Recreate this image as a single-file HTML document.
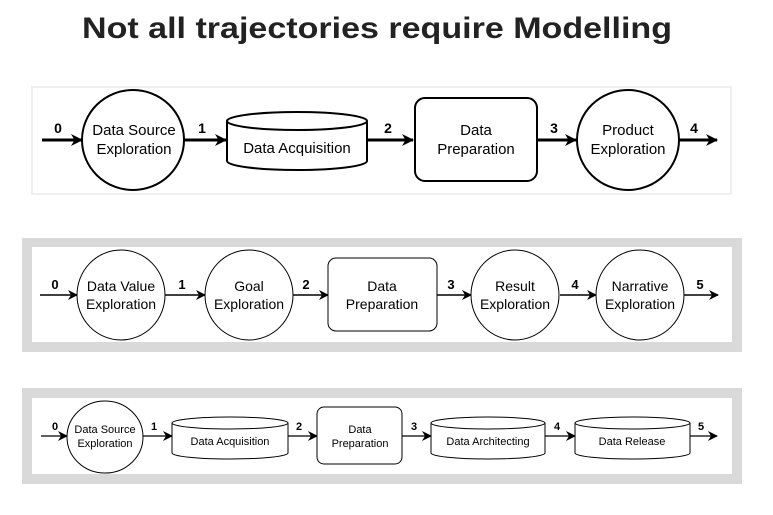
<!DOCTYPE html>
<html><head><meta charset="utf-8"><style>
html,body{margin:0;padding:0;background:#fff;}
svg{display:block;}
text{font-family:"Liberation Sans",Arial,sans-serif;}
</style></head><body>
<svg width="773" height="515" viewBox="0 0 773 515" xmlns="http://www.w3.org/2000/svg">
<defs>
<marker id="a" markerWidth="10" markerHeight="10" refX="9" refY="5" orient="auto" markerUnits="userSpaceOnUse"><path d="M0,0 L10,5 L0,10 L3,5 z" fill="#000"/></marker>
<marker id="b" markerWidth="12" markerHeight="12" refX="11" refY="6" orient="auto" markerUnits="userSpaceOnUse"><path d="M0,0 L12,6 L0,12 L3.5,6 z" fill="#000"/></marker>
</defs>
<text x="377" y="38" text-anchor="middle" font-size="30" font-weight="bold" fill="#222" textLength="590" lengthAdjust="spacingAndGlyphs">Not all trajectories require Modelling</text>

<!-- Panel 1 -->
<rect x="31" y="86" width="701" height="109" fill="#f0f0f0"/>
<rect x="33" y="88" width="697" height="105" fill="#fff"/>
<g stroke="#000" stroke-width="3" fill="none">
<line x1="42" y1="140" x2="82" y2="140" marker-end="url(#b)"/>
<line x1="184" y1="140" x2="226" y2="140" marker-end="url(#b)"/>
<line x1="367" y1="140" x2="413" y2="140" marker-end="url(#b)"/>
<line x1="537" y1="140" x2="576" y2="140" marker-end="url(#b)"/>
<line x1="679" y1="140" x2="717" y2="140" marker-end="url(#b)"/>
</g>
<g stroke="#000" stroke-width="2" fill="#fff">
<ellipse cx="133" cy="140" rx="51" ry="50"/>
<path d="M227,121 L227,161 A70,9 0 0 0 367,161 L367,121"/>
<ellipse cx="297" cy="121" rx="70" ry="9"/>
<rect x="415" y="98" width="122" height="83" rx="10"/>
<ellipse cx="628" cy="140" rx="51" ry="50"/>
</g>
<g font-size="15" text-anchor="middle" fill="#000">
<text x="134" y="135">Data Source</text><text x="134" y="154">Exploration</text>
<text x="297" y="153">Data Acquisition</text>
<text x="476" y="135">Data</text><text x="476" y="154">Preparation</text>
<text x="628" y="135">Product</text><text x="628" y="154">Exploration</text>
</g>
<g font-size="14" font-weight="bold" text-anchor="middle">
<text x="58" y="133">0</text><text x="202" y="133">1</text><text x="388" y="133">2</text><text x="554" y="133">3</text><text x="694" y="133">4</text>
</g>

<!-- Panel 2 -->
<rect x="22" y="238" width="720" height="114" fill="#d9d9d9"/>
<rect x="32" y="247" width="700" height="95" fill="#fff"/>
<g stroke="#000" stroke-width="1.5" fill="none">
<line x1="40" y1="295" x2="77" y2="295" marker-end="url(#a)"/>
<line x1="165" y1="295" x2="205" y2="295" marker-end="url(#a)"/>
<line x1="293" y1="295" x2="328" y2="295" marker-end="url(#a)"/>
<line x1="437" y1="295" x2="471" y2="295" marker-end="url(#a)"/>
<line x1="560" y1="295" x2="596" y2="295" marker-end="url(#a)"/>
<line x1="684" y1="295" x2="718" y2="295" marker-end="url(#a)"/>
</g>
<g stroke="#000" stroke-width="1" fill="#fff">
<ellipse cx="121" cy="295" rx="44" ry="45"/>
<ellipse cx="249" cy="295" rx="44" ry="45"/>
<rect x="328" y="258" width="109" height="73" rx="8"/>
<ellipse cx="515" cy="295" rx="44" ry="45"/>
<ellipse cx="640" cy="295" rx="44" ry="45"/>
</g>
<g font-size="14" text-anchor="middle" fill="#000">
<text x="121" y="291">Data Value</text><text x="121" y="309">Exploration</text>
<text x="249" y="291">Goal</text><text x="249" y="309">Exploration</text>
<text x="382" y="291">Data</text><text x="382" y="309">Preparation</text>
<text x="515" y="291">Result</text><text x="515" y="309">Exploration</text>
<text x="640" y="291">Narrative</text><text x="640" y="309">Exploration</text>
</g>
<g font-size="13" font-weight="bold" text-anchor="middle">
<text x="55" y="289">0</text><text x="182" y="289">1</text><text x="306" y="289">2</text><text x="451" y="289">3</text><text x="575" y="289">4</text><text x="700" y="289">5</text>
</g>

<!-- Panel 3 -->
<rect x="22" y="388" width="720" height="96" fill="#d9d9d9"/>
<rect x="32" y="398" width="700" height="76" fill="#fff"/>
<g stroke="#000" stroke-width="1.3" fill="none">
<line x1="41" y1="436" x2="67" y2="436" marker-end="url(#a)"/>
<line x1="143" y1="436" x2="172" y2="436" marker-end="url(#a)"/>
<line x1="288" y1="436" x2="317" y2="436" marker-end="url(#a)"/>
<line x1="402" y1="436" x2="431" y2="436" marker-end="url(#a)"/>
<line x1="545" y1="436" x2="575" y2="436" marker-end="url(#a)"/>
<line x1="690" y1="436" x2="717" y2="436" marker-end="url(#a)"/>
</g>
<g stroke="#000" stroke-width="1" fill="#fff">
<ellipse cx="105" cy="437" rx="38" ry="36"/>
<path d="M172,423 L172,453 A58,6 0 0 0 288,453 L288,423"/>
<ellipse cx="230" cy="423" rx="58" ry="6"/>
<rect x="317" y="407" width="85" height="57" rx="7"/>
<path d="M431,423 L431,453 A57,6 0 0 0 545,453 L545,423"/>
<ellipse cx="488" cy="423" rx="57" ry="6"/>
<path d="M575,423 L575,453 A57.5,6 0 0 0 690,453 L690,423"/>
<ellipse cx="632.5" cy="423" rx="57.5" ry="6"/>
</g>
<g font-size="11" text-anchor="middle" fill="#000">
<text x="105" y="433">Data Source</text><text x="105" y="447">Exploration</text>
<text x="230" y="445">Data Acquisition</text>
<text x="360" y="433">Data</text><text x="360" y="447">Preparation</text>
<text x="488" y="445">Data Architecting</text>
<text x="632" y="445">Data Release</text>
</g>
<g font-size="11" font-weight="bold" text-anchor="middle">
<text x="55" y="430">0</text><text x="154" y="430">1</text><text x="299" y="430">2</text><text x="414" y="430">3</text><text x="557" y="430">4</text><text x="701" y="430">5</text>
</g>
</svg>
</body></html>
